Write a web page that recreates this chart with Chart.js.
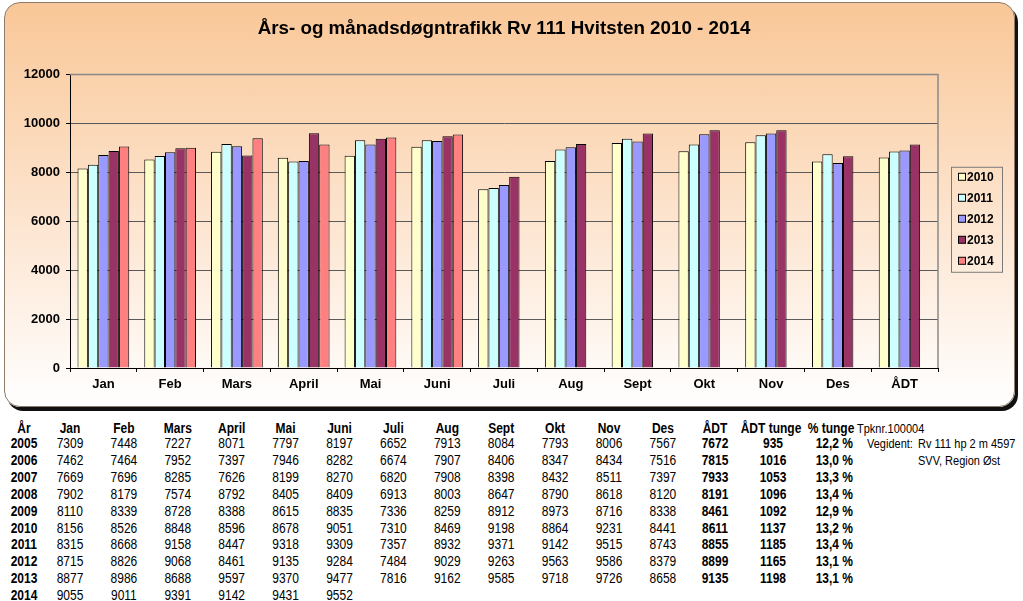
<!DOCTYPE html>
<html><head><meta charset="utf-8">
<script src="https://cdn.jsdelivr.net/npm/chart.js@4"></script>
<style>
html,body{margin:0;padding:0;background:#fff;width:1023px;height:601px;overflow:hidden;font-family:"Liberation Sans",Arial,sans-serif;}
#box{position:absolute;left:4px;top:2px;width:1009px;height:403px;border:1px solid #8d7c6c;border-radius:16px;background:linear-gradient(to bottom,#F9C797 0%,#FDE8D6 60%,#FFFFFF 100%);box-shadow:3px 4px 0 #111;}
#wrap{position:absolute;left:0;top:0;width:1003px;height:405px;}
.c{position:absolute;font-size:12px;line-height:14px;color:#000;white-space:nowrap;}
.b{font-weight:bold;}
</style></head>
<body>
<div id="box"></div>
<div id="wrap"><canvas id="chart" width="1003" height="405"></canvas></div>
<div id="tbl"></div>
<script>
// ---- chart data ----
const categories = ['Jan','Feb','Mars','April','Mai','Juni','Juli','Aug','Sept','Okt','Nov','Des','ÅDT'];
const seriesLabels = ['2010','2011','2012','2013','2014'];
const v2010 = [8156,8526,8848,8596,8678,9051,7310,8469,9198,8864,9231,8441];
const v2011 = [8315,8668,9158,8447,9318,9309,7357,8932,9371,9142,9515,8743];
const v2012 = [8715,8826,9068,8461,9135,9284,7484,9029,9263,9563,9586,8379];
const v2013 = [8877,8986,8688,9597,9370,9477,7816,9162,9585,9718,9726,8658];
const v2014 = [9055,9011,9391,9142,9431,9552];
const adt2010 = 8611, adt2011 = 8855, adt2012 = 8899, adt2013 = 9135;
const yTickMax = 12000, yTickStep = 2000;

// ---- table data ----
const tableHeader = ['År','Jan','Feb','Mars','April','Mai','Juni','Juli','Aug','Sept','Okt','Nov','Des','ÅDT','ÅDT tunge','% tunge'];
const tableYears = ['2005','2006','2007','2008','2009','2010','2011','2012','2013','2014'];
const r2005 = [7309,7448,7227,8071,7797,8197,6652,7913,8084,7793,8006,7567];
const r2006 = [7462,7464,7952,7397,7946,8282,6674,7907,8406,8347,8434,7516];
const r2007 = [7669,7696,8285,7626,8199,8270,6820,7908,8398,8432,8511,7397];
const r2008 = [7902,8179,7574,8792,8405,8409,6913,8003,8647,8790,8618,8120];
const r2009 = [8110,8339,8728,8388,8615,8835,7336,8259,8912,8973,8716,8338];
const adtYear = [7672,7815,7933,8191,8461,adt2010,adt2011,adt2012,adt2013];
const adtTunge = [935,1016,1053,1096,1092,1137,1185,1165,1198];
const pctTunge = ['12,2 %','13,0 %','13,3 %','13,4 %','12,9 %','13,2 %','13,4 %','13,1 %','13,1 %'];
const tableMonthRows = [r2005,r2006,r2007,r2008,r2009,v2010,v2011,v2012,v2013,v2014];
const sideNotes = ['Tpknr.100004','Vegident:','Rv 111 hp 2 m 4597','SVV, Region Øst'];

// ---- styles ----
const seriesColors = ['#FFFFCC','#CCFFFF','#9999FF','#993366','#FF8080'];
const FONT = "'Liberation Sans', Arial, sans-serif";
Chart.defaults.font.family = FONT;
Chart.defaults.color = '#000';

const seriesData = [
  v2010.concat([adt2010]),
  v2011.concat([adt2011]),
  v2012.concat([adt2012]),
  v2013.concat([adt2013]),
  v2014
];

const frameAndLegend = {
  id: 'frameAndLegend',
  beforeDatasetsDraw(chart) {
    const {ctx, chartArea: a} = chart;
    ctx.save();
    ctx.strokeStyle = '#8a8a8a';
    ctx.lineWidth = 1.5;
    ctx.beginPath();
    ctx.moveTo(a.left, a.top); ctx.lineTo(a.right, a.top); ctx.lineTo(a.right, a.bottom);
    ctx.stroke();
    ctx.restore();
  },
  afterDraw(chart) {
    const {ctx, chartArea: a} = chart;
    const ds = chart.data.datasets;
    const step = 21;
    const h = 105, w = 51;
    const left = a.right + 13;
    const top = (a.top + a.bottom) / 2 - h / 2 - 2;
    ctx.save();
    ctx.strokeStyle = '#7a7a7a';
    ctx.lineWidth = 1;
    ctx.strokeRect(left + 0.5, top + 0.5, w, h);
    ctx.font = 'bold 12px ' + FONT;
    ctx.textBaseline = 'middle';
    ctx.textAlign = 'left';
    ds.forEach((d, i) => {
      const cy = top + 10 + i * step;
      ctx.fillStyle = d.backgroundColor;
      ctx.fillRect(left + 7.5, cy - 3.5, 7, 7);
      ctx.strokeStyle = '#000';
      ctx.strokeRect(left + 7.5, cy - 3.5, 7, 7);
      ctx.fillStyle = '#000';
      ctx.fillText(d.label, left + 16, cy + 1);
    });
    ctx.restore();
  }
};

new Chart(document.getElementById('chart'), {
  type: 'bar',
  data: {
    labels: categories,
    datasets: seriesLabels.map((lab, i) => ({
      label: lab,
      data: seriesData[i],
      backgroundColor: seriesColors[i],
      borderColor: '#000',
      borderWidth: 1,
      categoryPercentage: 0.775,
      barPercentage: 1.0
    }))
  },
  options: {
    responsive: false,
    animation: false,
    layout: {padding: {left: 0, right: 65, top: 0, bottom: 0}},
    plugins: {
      legend: {display: false},
      tooltip: {enabled: false},
      title: {
        display: true,
        fullSize: false,
        text: 'Års- og månadsdøgntrafikk Rv 111 Hvitsten 2010 - 2014',
        font: {size: 18.8, weight: 'bold'},
        color: '#000',
        padding: {top: 18, bottom: 34}
      }
    },
    scales: {
      x: {
        grid: {display: true, drawOnChartArea: false, drawTicks: true, tickLength: 4, tickColor: '#000', offset: true},
        border: {color: '#000', width: 1},
        ticks: {font: {size: 13, weight: 'bold'}, color: '#000', padding: 5, maxRotation: 0},
        afterFit(s) { s.height = 37; }
      },
      y: {
        min: 0, max: yTickMax,
        ticks: {stepSize: yTickStep, font: {size: 13, weight: 'bold'}, color: '#000', padding: 6,
                callback: v => String(v)},
        grid: {color: '#5a5a5a', lineWidth: 1, tickLength: 4, tickColor: '#000'},
        border: {color: '#000', width: 1},
        afterFit(s) { s.width = 70; }
      }
    }
  },
  plugins: [frameAndLegend]
});

// ---- table ----
const tbl = document.getElementById('tbl');
function cell(text, x, y, bold, align, size) {
  const d = document.createElement('div');
  d.className = 'c' + (bold ? ' b' : '');
  d.textContent = text;
  if (size) d.style.fontSize = size + 'px';
  d.style.top = y + 'px';
  if (align === 'right') {
    d.style.right = (1023 - x) + 'px';
    d.style.transform = 'translateY(-50%) scaleY(1.15)';
  } else if (align === 'left') {
    d.style.left = x + 'px';
    d.style.transform = 'translateY(-50%) scaleY(1.15)';
  } else {
    d.style.left = x + 'px';
    d.style.transform = 'translate(-50%,-50%) scaleY(1.15)';
  }
  tbl.appendChild(d);
}
const colX = i => 70 + i * 53.9;
const headY = 428, rowY = i => 443 + i * 16.9;
cell(tableHeader[0], 24, headY, true);
for (let i = 0; i < 12; i++) cell(tableHeader[i + 1], colX(i), headY, true);
cell(tableHeader[13], 715, headY, true);
cell(tableHeader[14], 771, headY, true);
cell(tableHeader[15], 831, headY, true);
tableYears.forEach((yr, r) => {
  const y = rowY(r);
  cell(yr, 24, y, true);
  tableMonthRows[r].forEach((v, i) => cell(String(v), colX(i), y, false));
  if (r < adtYear.length) {
    cell(String(adtYear[r]), 715, y, true);
    cell(String(adtTunge[r]), 773, y, true);
    cell(pctTunge[r], 853, y, true, 'right');
  }
});
cell(sideNotes[0], 857, headY, false, 'left', 11);
cell(sideNotes[1], 867, rowY(0), false, 'left', 11);
cell(sideNotes[2], 918, rowY(0), false, 'left', 11);
cell(sideNotes[3], 918, rowY(1), false, 'left', 11);
</script>
</body></html>
